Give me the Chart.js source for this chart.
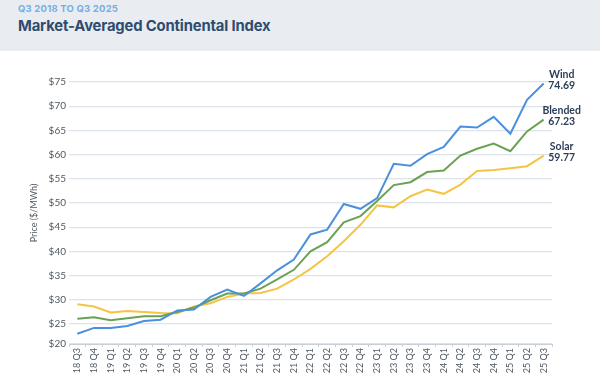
<!DOCTYPE html>
<html>
<head>
<meta charset="utf-8">
<script src="https://cdn.jsdelivr.net/npm/chart.js@4.4.1/dist/chart.umd.min.js"></script>
<style>
  html, body { margin: 0; padding: 0; background: #fff; }
  body { width: 600px; height: 382px; position: relative; overflow: hidden; }
  .header {
    position: absolute; left: 0; top: 0; width: 600px; height: 51px;
    background: #e9edf1;
  }
  .subtitle {
    position: absolute; left: 18px; top: 3px;
    font: 700 9.5px "Inter", sans-serif; color: #78aee2; letter-spacing: 0.2px;
  }
  .title {
    position: absolute; left: 18px; top: 17px;
    font: 700 14.8px "Inter", sans-serif; color: #2f4b6e; letter-spacing: -0.15px;
  }
  .chart-box { position: absolute; left: 0; top: 51px; width: 600px; height: 331px; }
</style>
</head>
<body>
<div class="header">
  <div class="subtitle">Q3 2018 TO Q3 2025</div>
  <div class="title">Market-Averaged Continental Index</div>
</div>
<div class="chart-box"><canvas id="chart"></canvas></div>
<script>
// quarters, Q3 2018 .. Q3 2025
const quarters = [
  '18 Q3', '18 Q4',
  '19 Q1', '19 Q2', '19 Q3', '19 Q4',
  '20 Q1', '20 Q2', '20 Q3', '20 Q4',
  '21 Q1', '21 Q2', '21 Q3', '21 Q4',
  '22 Q1', '22 Q2', '22 Q3', '22 Q4',
  '23 Q1', '23 Q2', '23 Q3', '23 Q4',
  '24 Q1', '24 Q2', '24 Q3', '24 Q4',
  '25 Q1', '25 Q2', '25 Q3'
];

// $/MWh
const wind = [
  23.0, 24.2,
  24.2, 24.6, 25.6, 25.9,
  27.8, 28.0, 30.6, 32.1,
  30.8, 33.4, 36.1, 38.3,
  43.5, 44.5, 49.8, 48.8,
  51.0, 58.1, 57.7, 60.1,
  61.6, 65.8, 65.6, 67.8,
  64.3, 71.3, 74.69
];
const blended = [
  26.1, 26.4,
  25.8, 26.2, 26.6, 26.6,
  27.5, 28.4, 29.9, 31.3,
  31.3, 32.3, 34.2, 36.2,
  40.0, 41.9, 46.0, 47.3,
  50.4, 53.7, 54.3, 56.4,
  56.7, 59.8, 61.2, 62.3,
  60.7, 64.8, 67.23
];
const solar = [
  29.1, 28.6,
  27.4, 27.7, 27.5, 27.3,
  27.2, 28.6, 29.3, 30.6,
  31.3, 31.4, 32.3, 34.2,
  36.4, 39.0, 42.1, 45.5,
  49.5, 49.1, 51.4, 52.8,
  51.9, 53.8, 56.6, 56.8,
  57.2, 57.6, 59.77
];

const seriesNames = ['Wind', 'Blended', 'Solar'];
const yTicks = [25, 30, 35, 40, 45, 50, 55, 60, 65, 70, 75];
const yBottom = 20.87; // the picture's "$20" baseline sits a bit above a true 20

const COLORS = { Wind: '#4a90dc', Blended: '#6aa253', Solar: '#f5c443' };
const LABEL_COLOR = '#2c3e58';

// end-of-line labels (name + latest value)
const endLabels = {
  id: 'endLabels',
  afterDatasetsDraw(chart) {
    const ctx = chart.ctx;
    ctx.save();
    ctx.fillStyle = LABEL_COLOR;
    ctx.textAlign = 'center';
    ctx.textBaseline = 'middle';
    ctx.font = '700 10.5px Lato, sans-serif';
    chart.data.datasets.forEach((ds, i) => {
      const pts = chart.getDatasetMeta(i).data;
      const last = pts[pts.length - 1];
      const val = ds.data[ds.data.length - 1];
      const x = last.x + 18;
      ctx.fillText(ds.label, x, last.y - 9);
      ctx.fillText(val.toFixed(2), x, last.y + 2);
    });
    ctx.restore();
  }
};

const line = (name, data) => ({
  label: name,
  data,
  borderColor: COLORS[name],
  backgroundColor: COLORS[name],
  borderWidth: 2,
  pointRadius: 0,
  tension: 0,
});

new Chart(document.getElementById('chart'), {
  type: 'line',
  data: {
    labels: quarters,
    datasets: [
      line(seriesNames[0], wind),
      line(seriesNames[1], blended),
      line(seriesNames[2], solar),
    ],
  },
  options: {
    responsive: true,
    maintainAspectRatio: false,
    animation: false,
    layout: { padding: { left: 29, right: 48, top: 31, bottom: 0 } },
    plugins: {
      legend: { display: false },
      tooltip: { enabled: false },
    },
    scales: {
      x: {
        offset: true,
        border: { color: '#c9cfd6', width: 1 },
        grid: { display: true, drawOnChartArea: false, drawTicks: true, tickLength: 3, color: '#c9cfd6', offset: true },
        ticks: {
          autoSkip: false, maxRotation: 90, minRotation: 90, padding: 1,
          color: '#4f5862', font: { family: 'Lato', size: 9 },
        },
        afterFit(scale) { scale.height = 38; },
      },
      y: {
        min: yBottom,
        max: 75,
        afterBuildTicks(scale) {
          scale.ticks = [yBottom, ...yTicks].map(v => ({ value: v }));
        },
        border: { display: false },
        grid: { color: '#dde3ea', lineWidth: 1.3, drawTicks: false },
        ticks: {
          padding: 3,
          color: '#4f5862', font: { family: 'Lato', size: 10 },
          callback: v => '$' + Math.round(v < 21 ? 20 : v),
        },
        title: {
          display: true, text: 'Price ($/MWh)',
          color: '#4f5862', font: { family: 'Lato', size: 9 },
          padding: { top: 0, bottom: 4 },
        },
        afterFit(scale) { scale.width = 40; },
      },
    },
  },
  plugins: [endLabels],
});
</script>
</body>
</html>
